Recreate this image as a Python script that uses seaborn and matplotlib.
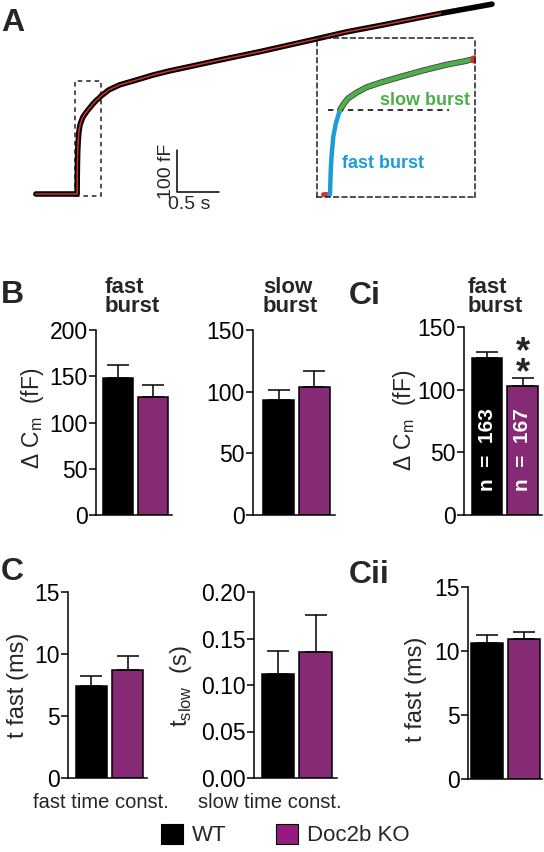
import matplotlib
matplotlib.use('Agg')
import matplotlib.pyplot as plt
import seaborn as sns
from matplotlib.patches import Rectangle, Patch

# ---- panel A: capacitance trace ----
trace_t = [-0.49, -0.012, 0.0, 0.0015, 0.003, 0.005, 0.008, 0.013, 0.021, 0.028,
           0.037, 0.054, 0.073, 0.100, 0.139, 0.184, 0.230, 0.266, 0.284, 0.38,
           0.51, 0.70, 0.90, 1.10, 1.38, 1.70, 2.18, 2.80, 3.21, 3.63, 4.33, 4.94]
trace_c = [0, 0, 0, 0, 42, 70, 99, 122, 145, 155,
           165, 175, 184, 192, 202, 213, 223, 229, 233, 248,
           260, 271, 283, 293, 305, 319, 339, 367, 386, 402, 430, 452]
fit_end = 4.33        # red fit stops here (s)
fast_end = 0.021      # fast / slow burst split (s)
split_c = 145         # dashed line in the inset (fF)
zoom_t = (-0.024, 0.286)
zoom_c = (-5, 269)

# ---- bar panels ----
groups = ['WT', 'Doc2b KO']
fast_dcm = [148, 128]
fast_dcm_sem = [14, 13]
slow_dcm = [93, 104]
slow_dcm_sem = [8, 13]
ci_dcm = [125, 103]
ci_dcm_sem = [5, 6]
tau_fast = [7.4, 8.7]
tau_fast_sem = [0.8, 1.1]
tau_slow = [0.112, 0.135]
tau_slow_sem = [0.025, 0.04]
cii_tau_fast = [10.65, 10.9]
cii_tau_fast_sem = [0.6, 0.6]
n_cells = [163, 167]

colors = ['#000000', '#951B80']
red = '#D7302A'
blue = '#1E9CD7'
green = '#4DAF4A'

sns.set_style('ticks')
plt.rcParams['font.family'] = ['Liberation Sans', 'DejaVu Sans']
plt.rcParams['mathtext.fontset'] = 'custom'
plt.rcParams['mathtext.rm'] = 'Liberation Sans'

W, H = 544, 852
fig = plt.figure(figsize=(W / 100, H / 100), dpi=100)


def px_axes(left, top, right, bottom):
    return fig.add_axes([left / W, 1 - bottom / H, (right - left) / W, (bottom - top) / H])


def px_text(x, y, s, **kw):
    fig.text(x / W, 1 - y / H, s, **kw)


# ---------------- A ----------------
# 84 px per s, 0.42 px per fF, jump at x=77, baseline at y=194
axA = px_axes(20, 0, 500, 215)
axA.set_xlim((20 - 77) / 84, (500 - 77) / 84)
axA.set_ylim((194 - 215) / 0.42, 194 / 0.42)
axA.axis('off')
sns.lineplot(x=trace_t, y=trace_c, color='black', lw=4, ax=axA, sort=False)
fit_t = [t for t in trace_t if t <= fit_end]
fit_c = trace_c[:len(fit_t)]
sns.lineplot(x=fit_t, y=fit_c, color=red, lw=1.1, ax=axA, sort=False)
axA.add_patch(Rectangle((zoom_t[0], zoom_c[0]), zoom_t[1] - zoom_t[0], zoom_c[1] - zoom_c[0],
                        fill=False, ls=(0, (3, 2.5)), lw=1.1, ec='#222222'))
# scale bar
axA.plot([1.19, 1.19, 1.69], [105, 5, 5], color='black', lw=1.1)
axA.text(1.06, 55, '100 fF', rotation=90, ha='center', va='center', fontsize=14)
axA.text(1.33, -5, '0.5 s', ha='center', va='top', fontsize=14)

# inset
axI = px_axes(317, 38, 475, 197)
axI.set_xlim(*zoom_t)
axI.set_ylim(*zoom_c)
axI.set_xticks([])
axI.set_yticks([])
for sp in axI.spines.values():
    sp.set_linestyle((0, (3, 2.5)))
    sp.set_linewidth(1.1)
    sp.set_color('#222222')
axI.set_facecolor('none')
pre_t = [t for t in trace_t if zoom_t[0] <= t <= 0]
pre_c = [c for t, c in zip(trace_t, trace_c) if zoom_t[0] <= t <= 0]
fast_t = [t for t in trace_t if 0 <= t <= fast_end]
fast_c = [c for t, c in zip(trace_t, trace_c) if 0 <= t <= fast_end]
slow_t = [t for t in trace_t if fast_end <= t <= zoom_t[1]]
slow_c = [c for t, c in zip(trace_t, trace_c) if fast_end <= t <= zoom_t[1]]
axI.hlines(split_c, -0.0024, 0.235, colors='#222222', linestyles=(0, (3, 2.5)), lw=1.3)
axI.plot(slow_t, slow_c, color='black', lw=4.4, alpha=0.75)
axI.plot(pre_t, pre_c, color=red, lw=3.5, solid_capstyle='round')
axI.plot(fast_t, fast_c, color=blue, lw=3.2, solid_capstyle='round')
axI.plot(slow_t, slow_c, color=green, lw=3.2, solid_capstyle='round')
axI.plot(slow_t[-1:], slow_c[-1:], marker='o', ms=5, color=red)
axI.text(0.276, 154, 'slow burst', color=green, fontsize=13, fontweight='bold',
         ha='right', va='baseline')
axI.text(0.025, 45, 'fast burst', color=blue, fontsize=13, fontweight='bold',
         ha='left', va='baseline')


# ---------------- bar panels ----------------
def bar_panel(box, xlim, vals, sems, ylim, yticks, fmt=None):
    ax = px_axes(*box)
    sns.barplot(x=groups, y=vals, hue=groups, palette=colors, legend=False, width=0.87,
                edgecolor='black', linewidth=1.1, errorbar=None, ax=ax)
    ax.errorbar([0, 1], vals, yerr=[[0, 0], sems], fmt='none', ecolor='black',
                elinewidth=1.1, capsize=8, capthick=1.1)
    ax.set_xlim(*xlim)
    ax.set_ylim(*ylim)
    ax.set_yticks(yticks)
    if fmt:
        ax.set_yticklabels([fmt % v for v in yticks])
    ax.set_xticks([])
    ax.set_xlabel('')
    ax.set_ylabel('')
    sns.despine(ax=ax)
    for s in ['left', 'bottom']:
        ax.spines[s].set_linewidth(1.1)
        ax.spines[s].set_color('black')
    ax.tick_params(axis='y', length=5, width=1.1, labelsize=16.5, pad=1, colors='black')
    return ax


dcm_label = 'Δ C$_\\mathregular{m}$  (fF)'

axB1 = bar_panel((96, 330, 172, 515), (-0.63, 1.54), fast_dcm, fast_dcm_sem,
                 (0, 200), [0, 50, 100, 150, 200])
axB2 = bar_panel((253, 330, 335, 515), (-0.73, 1.58), slow_dcm, slow_dcm_sem,
                 (0, 150), [0, 50, 100, 150])
axCi = bar_panel((464, 327, 542, 515), (-0.65, 1.55), ci_dcm, ci_dcm_sem,
                 (0, 150), [0, 50, 100, 150])
axC1 = bar_panel((68, 592, 147, 778), (-0.65, 1.54), tau_fast, tau_fast_sem,
                 (0, 15), [0, 5, 10, 15])
axC2 = bar_panel((254, 592, 337, 778), (-0.64, 1.57), tau_slow, tau_slow_sem,
                 (0, 0.20), [0, 0.05, 0.10, 0.15, 0.20], fmt='%.2f')
axCii = bar_panel((468, 587, 542, 779), (-0.51, 1.49), cii_tau_fast, cii_tau_fast_sem,
                  (0, 15), [0, 5, 10, 15])

# n inside the Ci bars
for i, n in enumerate(n_cells):
    axCi.text(i, 52, f'n  =  {n}', rotation=90, color='white', fontsize=15,
              fontweight='bold', ha='center', va='center')
star_base = ci_dcm[1] + ci_dcm_sem[1]
axCi.text(1, star_base - 4, '*\n*', fontsize=26, fontweight='bold', ha='center',
          va='baseline', linespacing=0.5)

# y labels
px_text(33, 418, dcm_label, rotation=90, ha='center', va='center', fontsize=16.5)
px_text(405, 420, dcm_label, rotation=90, ha='center', va='center', fontsize=16.5)
px_text(18, 685, 't fast (ms)', rotation=90, ha='center', va='center', fontsize=17)
px_text(181, 686, 't$_\\mathregular{slow}$  (s)', rotation=90, ha='center', va='center', fontsize=17)
px_text(416, 689, 't fast (ms)', rotation=90, ha='center', va='center', fontsize=17)

# titles
px_text(105, 312, 'fast\nburst', fontsize=16, fontweight='bold', va='baseline', linespacing=0.9)
px_text(263, 312, 'slow\nburst', fontsize=16, fontweight='bold', va='baseline', linespacing=0.9)
px_text(468, 312, 'fast\nburst', fontsize=16, fontweight='bold', va='baseline', linespacing=0.9)

# x labels
px_text(101, 808, 'fast time const.', fontsize=14.5, ha='center', va='baseline')
px_text(270, 808, 'slow time const.', fontsize=14.5, ha='center', va='baseline')

# panel letters
px_text(1, 31, 'A', fontsize=23, fontweight='bold', va='baseline')
px_text(1, 303, 'B', fontsize=23, fontweight='bold', va='baseline')
px_text(349, 304, 'Ci', fontsize=23, fontweight='bold', va='baseline')
px_text(1, 580, 'C', fontsize=23, fontweight='bold', va='baseline')
px_text(349, 583, 'Cii', fontsize=23, fontweight='bold', va='baseline')

# legend
handles = [Patch(facecolor=c, edgecolor='black', lw=0.8) for c in colors]
fig.legend(handles, groups, loc='lower center', bbox_to_anchor=(0.524, -0.017), ncol=2,
           frameon=False, fontsize=16, handlelength=1.0, handleheight=1.0,
           handletextpad=0.4, columnspacing=2.2)

fig.savefig('out.png', dpi=100)
